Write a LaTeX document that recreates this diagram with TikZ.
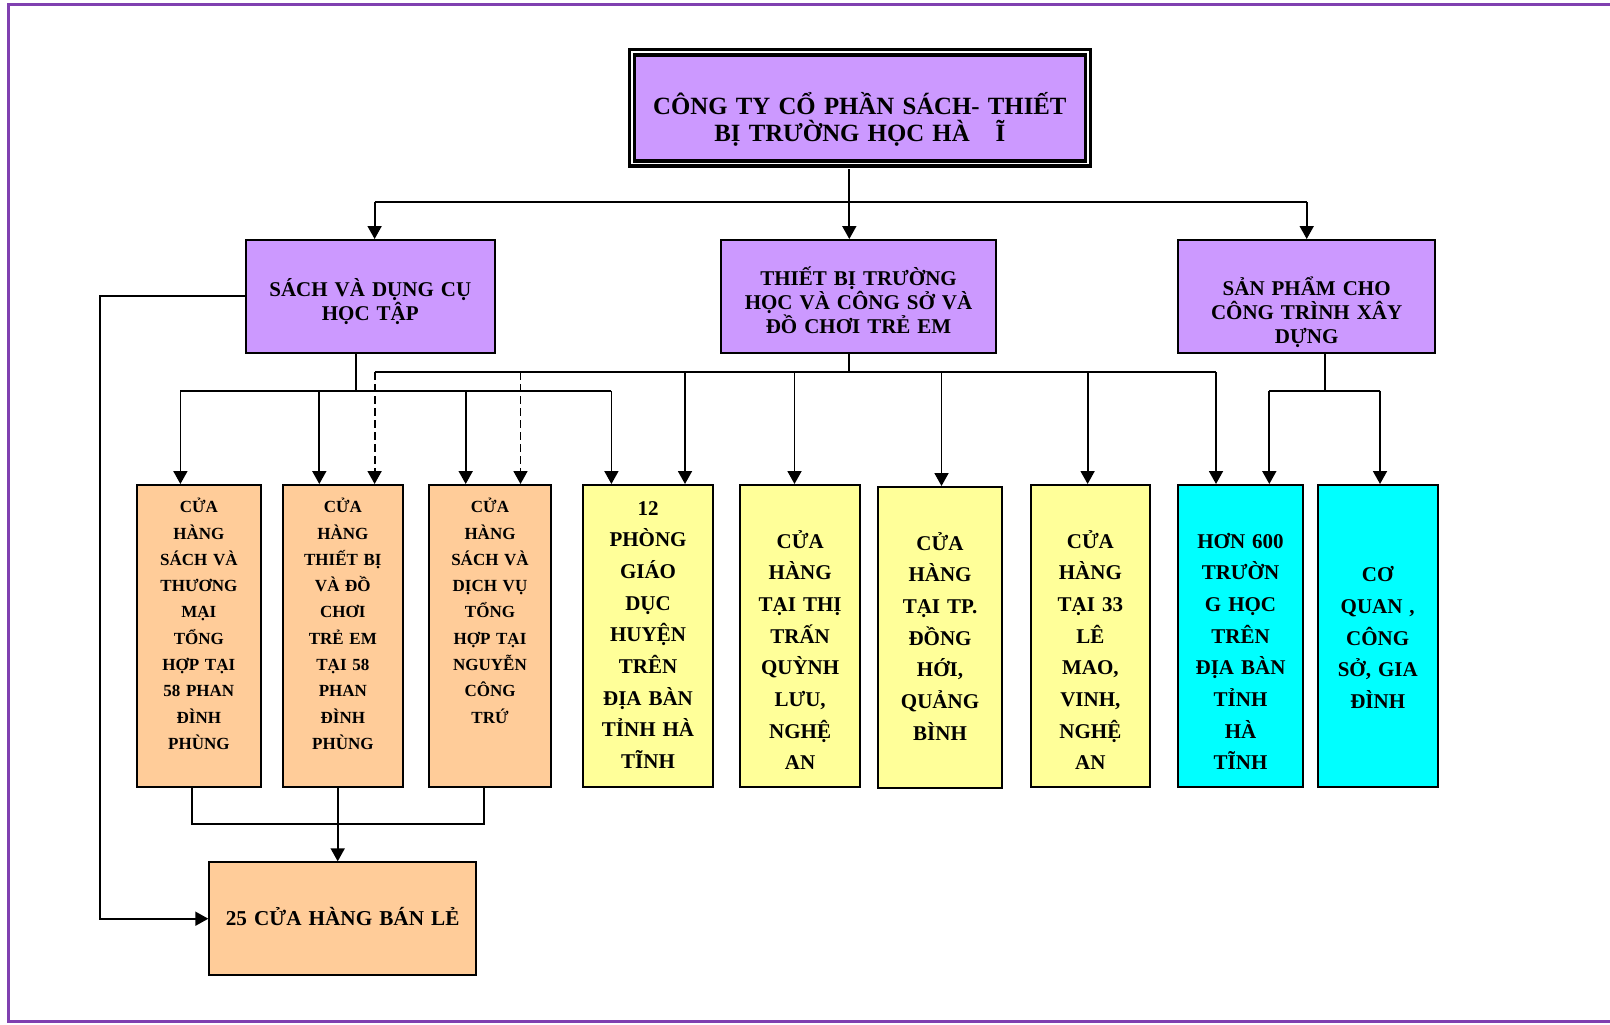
\documentclass[tikz,border=0pt]{standalone}
\usepackage{fontspec}
\setmainfont{Liberation Serif}
\usepackage{xcolor}
\usetikzlibrary{arrows.meta}
\definecolor{violetbox}{RGB}{204,153,255}
\definecolor{orangebox}{RGB}{255,204,153}
\definecolor{yellowbox}{RGB}{255,255,153}
\definecolor{cyanbox}{RGB}{0,255,255}
\definecolor{framecol}{RGB}{128,64,176}

\begin{document}
\begin{tikzpicture}[x=0.5pt,y=-0.5pt]
\tikzset{>={Triangle[width=7pt,length=6.5pt]}}
\tikzstyle{unit} =[draw, line width=1pt, inner sep=0pt, align=center]
\tikzstyle{company} =[unit, fill=violetbox, double, double distance=0.85pt, line width=1.75pt, text width=228pt, text height=30.9pt, text depth=24.7pt, font=\bfseries\fontsize{12.4pt}{13.85pt}\selectfont]
\tikzstyle{branch} =[unit, fill=violetbox, font=\bfseries\fontsize{10.5pt}{12pt}\selectfont]
\tikzstyle{store} =[unit, fill=orangebox, text height=13.85pt, text depth=136.9pt, font=\bfseries\fontsize{8.5pt}{13.15pt}\selectfont]
\tikzstyle{agent} =[unit, text height=31.5pt, text depth=119.25pt, font=\bfseries\fontsize{10.5pt}{15.85pt}\selectfont]
\tikzstyle{retail} =[unit, fill=orangebox, text width=133.35pt, text height=31.35pt, text depth=25pt, font=\bfseries\fontsize{10.6pt}{12pt}\selectfont]
\tikzstyle{link} =[line width=0.9pt]
\useasboundingbox (0,0) rectangle (1610,1024);

% frame
\draw[framecol, line width=1.2pt] (1610,4.5) -- (8.5,4.5) -- (8.5,1021.5) -- (1610,1021.5);

% company and its three branches
\node[company](top) at (859.85,107.8){CÔNG TY CỔ PHẦN SÁCH- THIẾT\\BỊ TRƯỜNG HỌC HÀ\hspace{13pt}Ĩ};
\node[branch, text width=124.3pt, text height=28.35pt, text depth=28.15pt](sach) at (370.3,296.5){SÁCH VÀ DỤNG CỤ\\HỌC TẬP};
\node[branch, text width=137.15pt, text height=22.5pt, text depth=34pt](thiet) at (858.55,296.5){THIẾT BỊ TRƯỜNG\\HỌC VÀ CÔNG SỞ VÀ\\ĐỒ CHƠI TRẺ EM};
\node[branch, text width=128.35pt, text height=27.85pt, text depth=28.65pt](sanpham) at (1306.65,296.5){SẢN PHẨM CHO\\CÔNG TRÌNH XÂY\\DỰNG};

% outlets
\node[store, text width=62.15pt](b1) at (198.85,635.75){CỬA\\HÀNG\\SÁCH VÀ\\THƯƠNG\\MẠI\\TỔNG\\HỢP TẠI\\58 PHAN\\ĐÌNH\\PHÙNG};
\node[store, text width=59.85pt](b2) at (342.85,635.75){CỬA\\HÀNG\\THIẾT BỊ\\VÀ ĐỒ\\CHƠI\\TRẺ EM\\TẠI 58\\PHAN\\ĐÌNH\\PHÙNG};
\node[store, text width=61pt](b3) at (490,635.75){CỬA\\HÀNG\\SÁCH VÀ\\DỊCH VỤ\\TỔNG\\HỢP TẠI\\NGUYỄN\\CÔNG\\TRỨ};
\node[agent, fill=yellowbox, text width=64.7pt, text height=15pt, text depth=135.75pt](b4) at (648,635.75){12\\PHÒNG\\GIÁO\\DỤC\\HUYỆN\\TRÊN\\ĐỊA BÀN\\TỈNH HÀ\\TĨNH};
\node[agent, fill=yellowbox, text width=59.85pt](b5) at (800.15,635.75){CỬA\\HÀNG\\TẠI THỊ\\TRẤN\\QUỲNH\\LƯU,\\NGHỆ\\AN};
\node[agent, fill=yellowbox, text width=61.7pt, text depth=119pt](b6) at (940,637.5){CỬA\\HÀNG\\TẠI TP.\\ĐỒNG\\HỚI,\\QUẢNG\\BÌNH};
\node[agent, fill=yellowbox, text width=59.65pt](b7) at (1090.35,635.75){CỬA\\HÀNG\\TẠI 33\\LÊ\\MAO,\\VINH,\\NGHỆ\\AN};
\node[agent, fill=cyanbox, text width=62.2pt](b8) at (1240.5,635.75){HƠN 600\\TRƯỜN\\G HỌC\\TRÊN\\ĐỊA BÀN\\TỈNH\\HÀ\\TĨNH};
\node[agent, fill=cyanbox, text width=60pt, text height=48.35pt, text depth=102.4pt](b9) at (1377.7,635.75){CƠ\\QUAN ,\\CÔNG\\SỞ, GIA\\ĐÌNH};
\node[retail](ban) at (342.65,918.65){25 CỬA HÀNG BÁN LẺ};

% company -> branches
\coordinate (h0) at (849.3,202);
\coordinate (h1) at (374.6,202);
\coordinate (h3) at (1306.7,202);
\draw[link, shorten <=2pt] (top.south -| h0) -- (h0);
\draw[link] (h1) -- (h3);
\draw[link,->] (h1) -- (sach.north -| h1);
\draw[link,->] (h0) -- (thiet.north -| h0);
\draw[link,->] (h3) -- (sanpham.north -| h3);

% books branch
\coordinate (s0) at (356,390.7);
\coordinate (s1) at (180.4,390.7);
\coordinate (s2) at (319.3,390.7);
\coordinate (s3) at (465.7,390.7);
\coordinate (s4) at (611.4,390.7);
\draw[link] (sach.south -| s0) -- (s0);
\draw[link] (s1) -- (s4);
\foreach \c/\n in {s1/b1,s2/b2,s3/b3,s4/b4}
  \draw[link,->] (\c) -- (\n.north -| \c);

% equipment branch
\coordinate (d0) at (849.3,372);
\coordinate (d1) at (374.6,372);
\coordinate (d2) at (520.5,372);
\coordinate (d3) at (685,372);
\coordinate (d4) at (794.5,372);
\coordinate (d5) at (941.5,372);
\coordinate (d6) at (1087.6,372);
\coordinate (d7) at (1216,372);
\draw[link] (thiet.south -| d0) -- (d0);
\draw[link] (d1) -- (d7);
\foreach \c/\n in {d1/b2,d2/b3}
  \draw[link,->,dash pattern=on 4pt off 2pt] (\c) -- (\n.north -| \c);
\foreach \c/\n in {d3/b4,d4/b5,d5/b6,d6/b7,d7/b8}
  \draw[link,->] (\c) -- (\n.north -| \c);

% building branch
\coordinate (p0) at (1325,390.7);
\coordinate (p1) at (1269.3,390.7);
\coordinate (p2) at (1380,390.7);
\draw[link] (sanpham.south -| p0) -- (p0);
\draw[link] (p1) -- (p2);
\draw[link,->] (p1) -- (b8.north -| p1);
\draw[link,->] (p2) -- (b9.north -| p2);

% shops -> retail
\coordinate (r1) at (191.7,824.3);
\coordinate (r2) at (337.7,824.3);
\coordinate (r3) at (484.3,824.3);
\draw[link] (b1.south -| r1) -- (r1) -- (r3) -- (b3.south -| r3);
\draw[link] (b2.south -| r2) -- (r2);
\draw[link,->] (r2) -- (ban.north -| r2);
\coordinate (l1) at (100,296);
\coordinate (l2) at (100,918.7);
\draw[link,->] (sach.west |- l1) -- (l1) -- (l2) -- (ban.west |- l2);
\end{tikzpicture}
\end{document}
